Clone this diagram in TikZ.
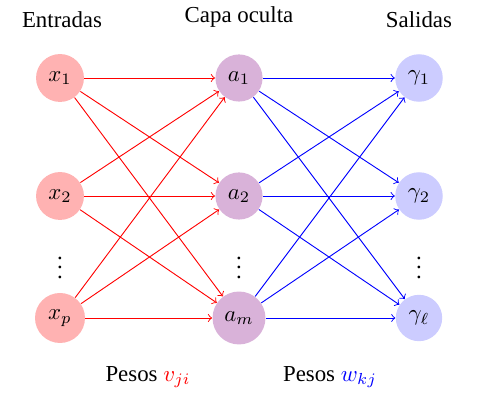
\documentclass[tikz,border=0pt]{standalone}
\usepackage{fontspec}
\setmainfont{Liberation Serif}
\usetikzlibrary{arrows}
\begin{document}
\begin{tikzpicture}[x=0.4375pt, y=-0.4375pt,
  neuron/.style={circle, minimum size=20pt, inner sep=0.3333em},
  inp/.style={neuron, fill=red!30},
  hid/.style={neuron, fill=violet!30},
  outp/.style={neuron, fill=blue!20},
  redarr/.style={->, red, line width=0.4pt},
  bluearr/.style={->, blue, line width=0.4pt}]
\useasboundingbox (0,0) rectangle (477,401);
% titles
\node (tin) at (62,20) {Entradas};
\node (thid) at (239,17) {Capa oculta};
\node (tout) at (419,20) {Salidas};
% input nodes
\node[inp] (x1) at (60,78) {$x_1$};
\node[inp] (x2) at (60,196) {$x_2$};
\node[inp] (xp) at (60,318) {$x_p$};
% hidden
\node[hid] (a1) at (239,78) {$a_1$};
\node[hid] (a2) at (239,196) {$a_2$};
\node[hid] (am) at (239,318) {$a_m$};
% outputs
\node[outp] (g1) at (419,78) {$\gamma_1$};
\node[outp] (g2) at (419,196) {$\gamma_2$};
\node[outp] (gl) at (419,318) {$\gamma_\ell$};
% dots
\node (d1) at (60,261) {$\vdots$};
\node (d2) at (239,261) {$\vdots$};
\node (d3) at (419,261) {$\vdots$};
% edges
\foreach \s in {x1,x2,xp}
  \foreach \t in {a1,a2,am}
    \draw[redarr] (\s) -- (\t);
\foreach \s in {a1,a2,am}
  \foreach \t in {g1,g2,gl}
    \draw[bluearr] (\s) -- (\t);
% weights
\node (wv) at (148,377) {Pesos \textcolor{red}{$v_{ji}$}};
\node (ww) at (330,377) {Pesos \textcolor{blue}{$w_{kj}$}};
\end{tikzpicture}
\end{document}
